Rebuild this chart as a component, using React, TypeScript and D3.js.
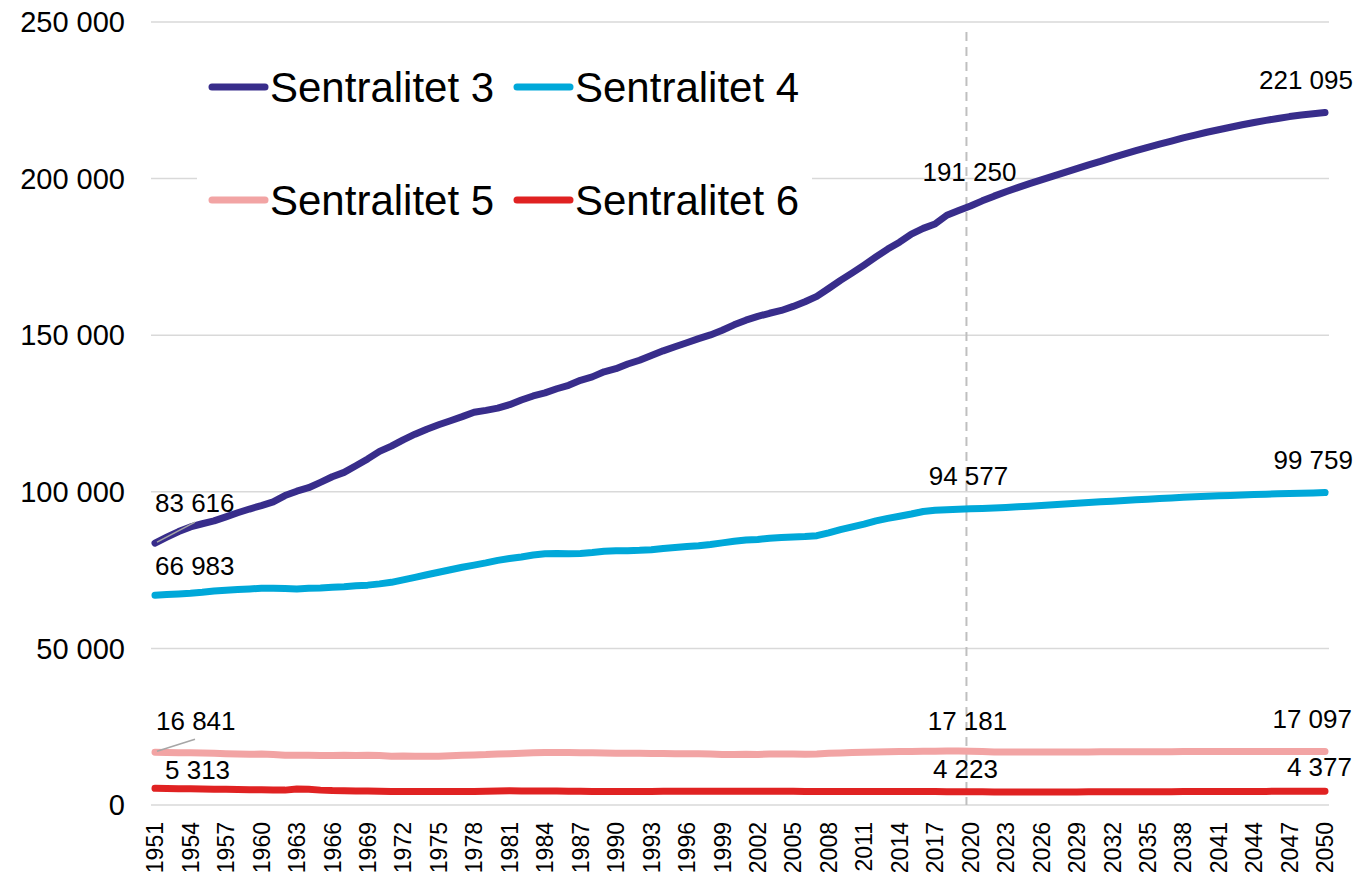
import React from "react";
import * as d3 from "d3";

const years: number[] = Array.from({ length: 100 }, (_, i) => 1951 + i);

const sentralitet3: number[] = [
  83616, 85500, 87300, 88800, 89800, 90700, 92000, 93300, 94500, 95600,
  96800, 98800, 100200, 101300, 103000, 104800, 106200, 108300, 110500, 112900,
  114600, 116600, 118400, 120000, 121400, 122700, 124000, 125400, 126000, 126700,
  127800, 129300, 130600, 131600, 132900, 134000, 135600, 136700, 138300, 139300,
  140800, 142000, 143500, 145000, 146300, 147600, 148900, 150100, 151600, 153300,
  154800, 156000, 157000, 157900, 159200, 160700, 162400, 164900, 167500, 169900,
  172400, 175000, 177500, 179700, 182300, 184100, 185500, 188300, 189800, 191250,
  192900, 194400, 195800, 197100, 198400, 199600, 200800, 202000, 203200, 204400,
  205500, 206700, 207800, 208900, 210000, 211000, 212000, 213000, 213900, 214800,
  215600, 216400, 217200, 217900, 218600, 219200, 219800, 220300, 220700, 221095,
];

const sentralitet4: number[] = [
  66983, 67200, 67400, 67600, 67900, 68300, 68600, 68800, 69000, 69200,
  69200, 69100, 69000, 69200, 69300, 69500, 69700, 70000, 70200, 70600,
  71100, 71900, 72700, 73500, 74300, 75100, 75900, 76600, 77300, 78100,
  78700, 79200, 79800, 80200, 80300, 80200, 80300, 80600, 81000, 81200,
  81200, 81300, 81500, 81900, 82200, 82500, 82800, 83200, 83700, 84200,
  84600, 84800, 85200, 85400, 85600, 85700, 86000, 86900, 87900, 88800,
  89700, 90700, 91500, 92200, 92900, 93700, 94100, 94300, 94450, 94577,
  94700, 94850, 95000, 95200, 95400, 95600, 95850, 96100, 96350, 96550,
  96800, 97000, 97250, 97450, 97650, 97850, 98050, 98250, 98400, 98550,
  98700, 98850, 99000, 99100, 99250, 99350, 99450, 99550, 99650, 99759,
];

const sentralitet5: number[] = [
  16841, 16800, 16700, 16650, 16600, 16500, 16400, 16300, 16200, 16250,
  16100, 15900, 15850, 15850, 15800, 15800, 15850, 15800, 15900, 15800,
  15600, 15650, 15600, 15550, 15600, 15700, 15850, 16000, 16100, 16300,
  16400, 16500, 16650, 16800, 16800, 16750, 16700, 16650, 16600, 16550,
  16500, 16500, 16450, 16450, 16400, 16400, 16350, 16250, 16100, 16150,
  16200, 16150, 16250, 16300, 16250, 16200, 16300, 16500, 16600, 16750,
  16850, 16950, 17000, 17050, 17100, 17150, 17200, 17250, 17220, 17181,
  17050, 16950, 16900, 16900, 16900, 16900, 16900, 16920, 16940, 16960,
  16980, 17000, 17000, 17010, 17020, 17030, 17040, 17050, 17060, 17070,
  17080, 17085, 17090, 17095, 17100, 17100, 17100, 17100, 17098, 17097,
];

const sentralitet6: number[] = [
  5313, 5250, 5200, 5150, 5100, 5050, 5000, 4950, 4900, 4850,
  4800, 4750, 5100, 5000, 4750, 4600, 4550, 4500, 4450, 4400,
  4350, 4300, 4300, 4300, 4300, 4300, 4300, 4350, 4400, 4500,
  4550, 4500, 4450, 4450, 4450, 4400, 4400, 4350, 4350, 4300,
  4300, 4300, 4350, 4400, 4400, 4400, 4400, 4400, 4400, 4400,
  4400, 4400, 4400, 4400, 4400, 4350, 4350, 4350, 4350, 4350,
  4300, 4300, 4300, 4300, 4300, 4300, 4300, 4250, 4230, 4223,
  4200, 4180, 4160, 4150, 4150, 4150, 4160, 4170, 4180, 4200,
  4210, 4220, 4230, 4240, 4250, 4260, 4270, 4280, 4290, 4300,
  4310, 4320, 4330, 4340, 4350, 4355, 4360, 4365, 4370, 4377,
];

const seriesNames: string[] = ["Sentralitet 3", "Sentralitet 4", "Sentralitet 5", "Sentralitet 6"];
const seriesColors: string[] = ["#382d8b", "#00a8d9", "#f2a4a4", "#e02222"];
const seriesValues: number[][] = [sentralitet3, sentralitet4, sentralitet5, sentralitet6];

const yTicks: number[] = [0, 50000, 100000, 150000, 200000, 250000];
const xTickYears: number[] = years.filter((y) => (y - 1951) % 3 === 0);
const labelYears: number[] = [1951, 2020, 2050];
const markerYear = 2020;

// label placement (style): [seriesIndex][labelYearIndex]
const labelStyle: { anchor: string; dx: number; dy: number; leader?: boolean }[][] = [
  [{ anchor: "start", dx: 0, dy: -31, leader: true }, { anchor: "middle", dx: -1, dy: -25 }, { anchor: "end", dx: 28, dy: -24 }],
  [{ anchor: "start", dx: 0, dy: -20 }, { anchor: "middle", dx: -2, dy: -24 }, { anchor: "end", dx: 28, dy: -24 }],
  [{ anchor: "start", dx: 1, dy: -22, leader: true }, { anchor: "middle", dx: -3, dy: -21 }, { anchor: "end", dx: 27, dy: -23 }],
  [{ anchor: "start", dx: 10, dy: -9 }, { anchor: "middle", dx: -5, dy: -14 }, { anchor: "end", dx: 27, dy: -15 }],
];

const fmt = (v: number) => d3.format(",")(v).replace(/,/g, " ");

export default function App() {
  const W = 1367;
  const H = 874;
  const x = d3.scaleLinear().domain([1951, 2050]).range([155, 1325]);
  const y = d3.scaleLinear().domain([0, 250000]).range([805, 22]);
  const gridX0 = 151;
  const gridX1 = 1329;
  const font = "'Liberation Sans', Arial, sans-serif";

  const line = d3
    .line<number>()
    .x((_, i) => x(years[i]))
    .y((d) => y(d));

  return (
    <svg
      width={W}
      height={H}
      style={{ position: "absolute", left: 0, top: 0, background: "#fff" }}
      fontFamily={font}
    >
      <rect x={0} y={0} width={W} height={H} fill="#fff" />
      {yTicks.map((t) => (
        <line key={t} x1={gridX0} x2={gridX1} y1={y(t)} y2={y(t)} stroke="#d9d9d9" strokeWidth={1.5} />
      ))}
      {yTicks.map((t) => (
        <text key={"yl" + t} x={125} y={y(t)} dy="0.35em" textAnchor="end" fontSize={29} fill="#000">
          {fmt(t)}
        </text>
      ))}
      {xTickYears.map((yr) => (
        <text
          key={"xl" + yr}
          transform={`translate(${x(yr)},822) rotate(-90)`}
          dy="0.36em"
          textAnchor="end"
          fontSize={23}
          fill="#000"
        >
          {yr}
        </text>
      ))}
      <rect x={197} y={40} width={615} height={195} fill="#fff" />
      <line
        x1={x(markerYear) - 4}
        x2={x(markerYear) - 4}
        y1={32}
        y2={805}
        stroke="#bfbfbf"
        strokeWidth={2}
        strokeDasharray="9 6"
      />
      {seriesValues.map((vals, si) => (
        <path
          key={"s" + si}
          d={line(vals) || ""}
          fill="none"
          stroke={seriesColors[si]}
          strokeWidth={7}
          strokeLinejoin="round"
          strokeLinecap="round"
        />
      ))}
      {seriesValues.map((vals, si) =>
        labelYears.map((yr, li) => {
          const idx = years.indexOf(yr);
          const v = vals[idx];
          const st = labelStyle[si][li];
          const px = x(yr);
          const py = y(v);
          return (
            <g key={`lab${si}-${li}`}>
              {st.leader && (
                <line x1={px + 2} y1={py - 1} x2={px + 40} y2={py - (si === 0 ? 21 : 13)} stroke="#a6a6a6" strokeWidth={1.5} />
              )}
              <text x={px + st.dx} y={py + st.dy} textAnchor={st.anchor} fontSize={26} fill="#000">
                {fmt(v)}
              </text>
            </g>
          );
        })
      )}
      {seriesNames.map((name, i) => {
        const col = i % 2;
        const row = Math.floor(i / 2);
        const lx = 212 + col * 305;
        const ly = 87 + row * 113;
        return (
          <g key={"lg" + i}>
            <line x1={lx} x2={lx + 53} y1={ly} y2={ly} stroke={seriesColors[i]} strokeWidth={7} strokeLinecap="round" />
            <text x={lx + 58} y={ly} dy="0.36em" fontSize={42} fill="#000">
              {name}
            </text>
          </g>
        );
      })}
    </svg>
  );
}
